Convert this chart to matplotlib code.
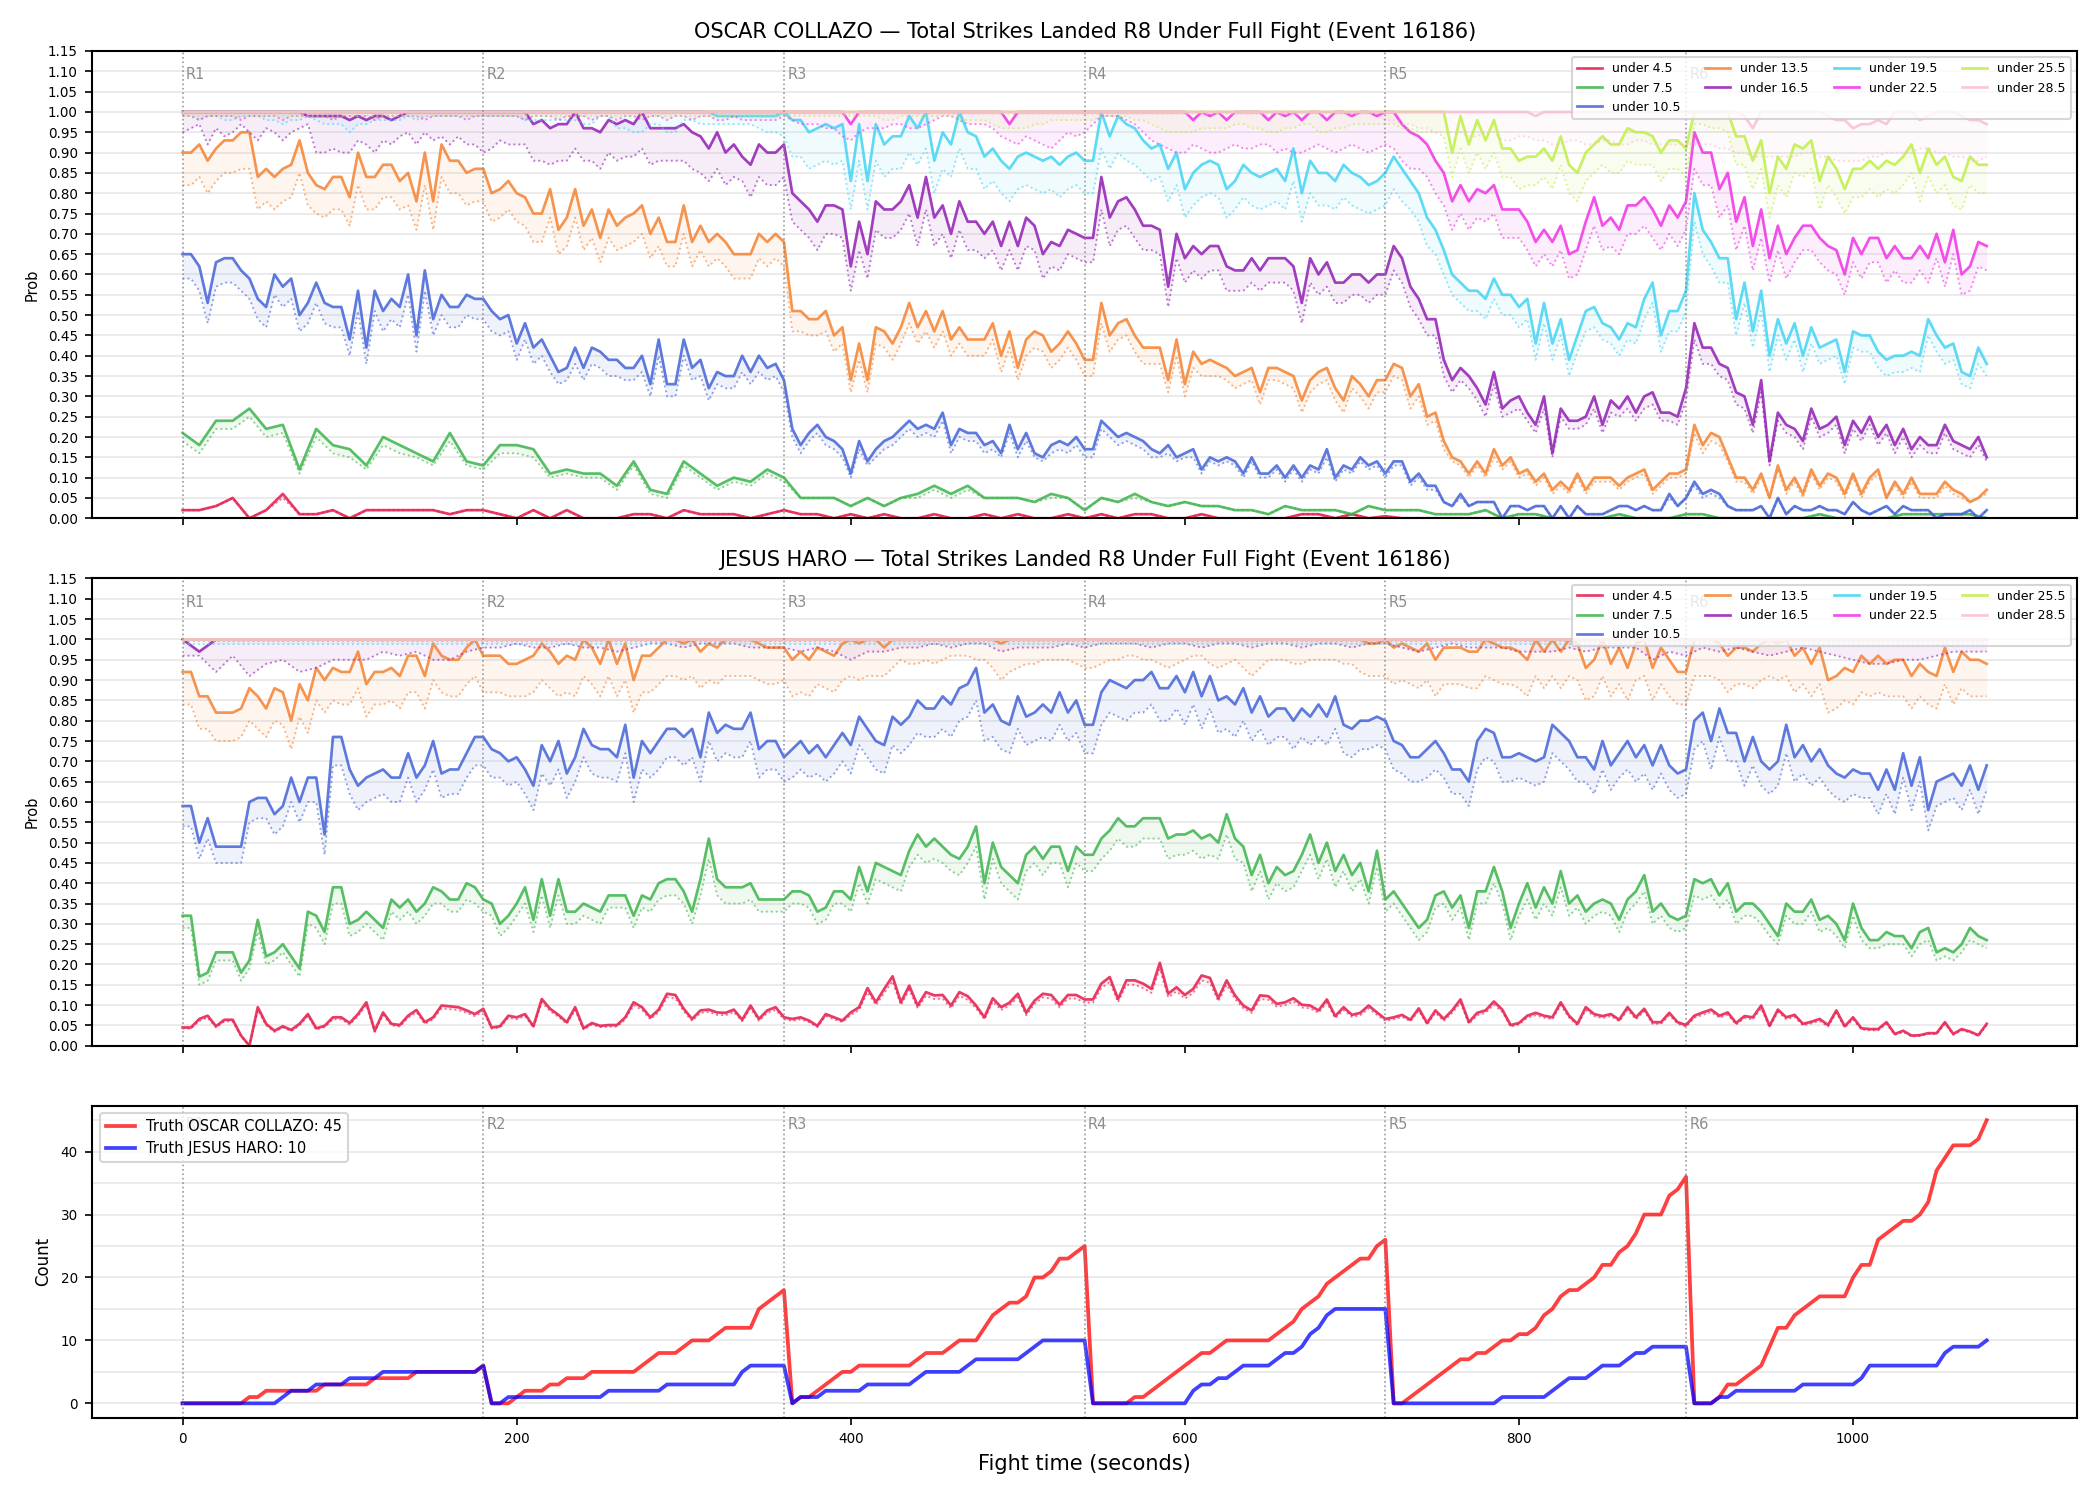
import numpy as np
import matplotlib.pyplot as plt
from matplotlib.ticker import MultipleLocator, FormatStrFormatter

plt.rcParams['axes.linewidth'] = 1.0

# market snapshot times (seconds): most lines every 5 s, a few read every 10 s
t5 = np.arange(0, 1081, 5)
t10 = np.arange(0, 1081, 10)
round_starts = [0, 180, 360, 540, 720, 900]

labels = ['under 4.5', 'under 7.5', 'under 10.5', 'under 13.5', 'under 16.5',
          'under 19.5', 'under 22.5', 'under 25.5', 'under 28.5']
colors = ['#e6194b', '#3cb44b', '#4363d8', '#f58231', '#911eb4',
          '#42d4f4', '#f032e6', '#bfef45', '#fabed4']

# ================= OSCAR COLLAZO (percent); c_ = solid line, cd_ = dotted line
# 10 s series
c_u45 = [2, 2, 3, 5, 0, 2, 6, 1, 1, 2, 0, 2, 2, 2, 2, 2, 1, 2,
         2, 1, 0, 2, 0, 2, 0, 0, 0, 1, 1, 0, 2, 1, 1, 1, 0, 1,
         2, 1, 1, 0, 1, 0, 1, 0, 0, 1, 0, 0, 1, 0, 1, 0, 0, 1,
         0, 1, 0, 1, 1, 0, 0, 1, 0, 0, 0, 0, 0, 1, 1, 0, 1, 0,
         0.5, 0, 0, 0, 0, 0, 0, 0, 0, 0, 0, 0, 0, 0, 0, 0, 0, 0,
         0, 0, 0, 0, 0, 0, 0, 0, 0, 0, 0, 0, 0, 0, 0, 0, 0, 0, 0]
cd_u45 = [2, 2, 3, 5, 0, 2, 5, 1, 1, 2, 0, 2, 2, 2, 2, 2, 1, 2,
          2, 1, 0, 2, 0, 2, 0, 0, 0, 1, 1, 0, 2, 1, 1, 1, 0, 1,
          2, 1, 1, 0, 1, 0, 1, 0, 0, 1, 0, 0, 1, 0, 1, 0, 0, 1,
          0, 1, 0, 1, 1, 0, 0, 1, 0, 0, 0, 0, 0, 1, 1, 0, 1, 0,
          0.5, 0, 0, 0, 0, 0, 0, 0, 0, 0, 0, 0, 0, 0, 0, 0, 0, 0,
          0, 0, 0, 0, 0, 0, 0, 0, 0, 0, 0, 0, 0, 0, 0, 0, 0, 0, 0]
c_u75 = [21, 18, 24, 24, 27, 22, 23, 12, 22, 18, 17, 13, 20, 18, 16, 14, 21, 14,
         13, 18, 18, 17, 11, 12, 11, 11, 8, 14, 7, 6, 14, 11, 8, 10, 9, 12,
         10, 5, 5, 5, 3, 5, 3, 5, 6, 8, 6, 8, 5, 5, 5, 4, 6, 5,
         2, 5, 4, 6, 4, 3, 4, 3, 3, 2, 2, 1, 3, 2, 2, 2, 1, 3,
         2, 2, 2, 1, 1, 1, 2, 0, 1, 1, 0, 0, 0, 0, 1, 0, 0, 0,
         1, 1, 0, 0, 0, 0, 0, 0, 1, 0, 0, 0, 0, 1, 1, 1, 1, 1, 0]
cd_u75 = [19, 16, 22, 22, 25, 20, 21, 11, 20, 16, 15, 12, 18, 16, 15, 13, 19, 13,
          12, 16, 16, 15, 10, 11, 10, 10, 7, 13, 6, 5, 13, 10, 7, 9, 8, 11,
          9, 5, 5, 5, 3, 5, 3, 5, 5, 7, 5, 7, 5, 5, 5, 4, 5, 5,
          2, 5, 4, 5, 4, 3, 4, 3, 3, 2, 2, 1, 3, 2, 2, 2, 1, 3,
          2, 2, 2, 1, 1, 1, 2, 0, 1, 1, 0, 0, 0, 0, 1, 0, 0, 0,
          1, 1, 0, 0, 0, 0, 0, 0, 1, 0, 0, 0, 0, 1, 1, 1, 1, 1, 0]
# 5 s series
c_u105 = [65, 65, 62, 53, 63, 64, 64, 61, 59, 54, 52, 60, 57, 59, 50, 53, 58, 53, 52, 52, 44, 56, 42, 56, 51, 54, 52, 60, 45, 61, 49, 55, 52, 52, 55, 54,
          54, 51, 49, 50, 43, 48, 42, 44, 40, 36, 37, 42, 37, 42, 41, 39, 39, 37, 37, 40, 33, 44, 33, 33, 44, 37, 39, 32, 36, 35, 35, 40, 36, 40, 37, 38,
          34, 22, 18, 21, 23, 20, 19, 17, 11, 19, 14, 17, 19, 20, 22, 24, 22, 23, 22, 26, 18, 22, 21, 21, 18, 19, 16, 23, 17, 21, 16, 15, 18, 19, 18, 20,
          17, 17, 24, 22, 20, 21, 20, 19, 17, 16, 18, 15, 16, 17, 12, 15, 14, 15, 14, 11, 15, 11, 11, 13, 10, 13, 10, 13, 12, 17, 10, 13, 12, 15, 13, 14,
          11, 14, 14, 9, 11, 8, 8, 4, 3, 6, 3, 4, 4, 4, 0, 3, 3, 2, 3, 3, 0, 3, 0, 3, 1, 1, 1, 2, 3, 3, 2, 3, 2, 2, 6, 3,
          5, 9, 6, 7, 6, 3, 2, 2, 2, 3, 0, 5, 1, 3, 2, 2, 3, 2, 2, 1, 4, 2, 1, 2, 3, 1, 3, 2, 2, 2, 0, 1, 1, 1, 2, 0, 2]
cd_u105 = [59, 59, 56, 48, 57, 58, 58, 56, 54, 49, 47, 55, 52, 54, 46, 48, 53, 48, 47, 47, 40, 51, 38, 51, 46, 49, 47, 55, 41, 56, 45, 50, 47, 47, 50, 49,
           49, 46, 45, 46, 39, 44, 38, 40, 36, 33, 34, 38, 34, 38, 37, 35, 35, 34, 34, 36, 30, 40, 30, 30, 40, 34, 35, 29, 33, 32, 32, 36, 33, 36, 34, 35,
           31, 20, 16, 19, 21, 18, 17, 15, 10, 17, 13, 15, 17, 18, 20, 22, 20, 21, 20, 24, 16, 20, 19, 19, 16, 17, 15, 21, 15, 19, 15, 14, 16, 17, 16, 18,
           15, 15, 22, 20, 18, 19, 18, 17, 15, 15, 16, 14, 15, 15, 11, 14, 13, 14, 13, 10, 14, 10, 10, 12, 9, 12, 9, 12, 11, 15, 9, 12, 11, 14, 12, 13,
           10, 13, 13, 8, 10, 7, 7, 4, 3, 5, 3, 4, 4, 4, 0, 3, 3, 2, 3, 3, 0, 3, 0, 3, 1, 1, 1, 2, 3, 3, 2, 3, 2, 2, 5, 3,
           5, 8, 5, 6, 5, 3, 2, 2, 2, 3, 0, 5, 1, 3, 2, 2, 3, 2, 2, 1, 4, 2, 1, 2, 3, 1, 3, 2, 2, 2, 0, 1, 1, 1, 2, 0, 2]
c_u135 = [90, 90, 92, 88, 91, 93, 93, 95, 95, 84, 86, 84, 86, 87, 93, 85, 82, 81, 84, 84, 79, 90, 84, 84, 87, 87, 83, 85, 78, 90, 78, 92, 88, 88, 85, 86,
          86, 80, 81, 83, 80, 79, 75, 75, 81, 71, 74, 81, 72, 76, 69, 76, 72, 74, 75, 77, 70, 74, 68, 68, 77, 68, 72, 68, 70, 68, 65, 65, 65, 70, 68, 70,
          68, 51, 51, 49, 49, 51, 45, 47, 34, 43, 34, 47, 46, 43, 47, 53, 47, 51, 46, 51, 44, 47, 44, 44, 44, 48, 40, 46, 37, 44, 46, 45, 41, 43, 46, 43,
          39, 39, 53, 45, 48, 49, 45, 42, 42, 42, 34, 44, 33, 41, 38, 39, 38, 37, 35, 36, 37, 31, 37, 37, 36, 35, 29, 34, 36, 37, 32, 29, 35, 33, 30, 34,
          34, 38, 37, 30, 33, 25, 26, 19, 15, 14, 11, 14, 11, 17, 13, 15, 11, 12, 9, 11, 7, 9, 7, 11, 7, 10, 10, 10, 8, 10, 11, 12, 7, 9, 11, 11,
          12, 23, 18, 21, 20, 15, 10, 10, 7, 11, 5, 13, 7, 10, 6, 12, 8, 11, 10, 6, 11, 6, 10, 12, 5, 9, 6, 10, 6, 6, 6, 9, 7, 6, 4, 5, 7]
cd_u135 = [82, 82, 84, 80, 83, 85, 85, 86, 86, 76, 78, 76, 78, 79, 85, 77, 75, 74, 76, 76, 72, 82, 76, 76, 79, 79, 76, 77, 71, 82, 71, 84, 80, 80, 77, 78,
           78, 73, 74, 76, 73, 72, 68, 68, 74, 65, 67, 74, 66, 69, 63, 69, 66, 67, 68, 70, 64, 67, 62, 62, 70, 62, 66, 62, 64, 62, 59, 59, 59, 64, 62, 64,
           62, 46, 46, 45, 45, 46, 41, 43, 31, 39, 31, 43, 42, 39, 43, 48, 43, 46, 42, 46, 40, 43, 40, 40, 40, 44, 36, 42, 34, 40, 42, 41, 37, 39, 42, 39,
           35, 35, 48, 41, 44, 45, 41, 38, 38, 38, 31, 40, 30, 37, 35, 35, 35, 34, 32, 33, 34, 28, 34, 34, 33, 32, 26, 31, 33, 34, 29, 26, 32, 30, 27, 31,
           31, 35, 34, 27, 30, 23, 24, 17, 14, 13, 10, 13, 10, 15, 12, 14, 10, 11, 8, 10, 6, 8, 6, 10, 6, 9, 9, 9, 7, 9, 10, 11, 6, 8, 10, 10,
           11, 21, 16, 19, 18, 14, 9, 9, 6, 10, 5, 12, 6, 9, 5, 11, 7, 10, 9, 5, 10, 5, 9, 11, 5, 8, 5, 9, 5, 5, 5, 8, 6, 5, 4, 5, 6]
c_u165 = [100] * 15 + [99, 99, 99, 99, 99, 98, 99, 98, 99, 99, 98, 99, 100, 100, 100, 100, 100, 100, 100, 100, 100,
          100, 100, 100, 100, 100, 100, 97, 98, 96, 97, 97, 100, 96, 96, 95, 98, 97, 98, 97, 100, 96, 96, 96, 96, 97, 95, 94, 91, 95, 90, 92, 89, 87, 92, 90, 90,
          92, 80, 78, 76, 73, 77, 77, 76, 62, 73, 65, 78, 76, 76, 78, 82, 74, 84, 74, 77, 70, 78, 73, 73, 70, 73, 67, 73, 67, 74, 72, 65, 68, 67, 71, 70,
          69, 69, 84, 74, 78, 79, 76, 72, 72, 71, 57, 70, 64, 67, 65, 67, 67, 62, 61, 61, 64, 61, 64, 64, 64, 62, 53, 64, 60, 63, 58, 58, 60, 60, 58, 60,
          60, 67, 64, 57, 54, 49, 49, 39, 34, 37, 35, 32, 28, 36, 27, 29, 30, 26, 23, 30, 16, 27, 24, 24, 25, 30, 23, 29, 27, 30, 26, 30, 31, 26, 26, 25,
          32, 48, 42, 42, 38, 37, 31, 30, 23, 34, 14, 26, 23, 22, 19, 27, 22, 23, 25, 18, 24, 21, 25, 20, 23, 18, 22, 17, 20, 18, 18, 23, 19, 18, 17, 20, 15]
cd_u165 = [95, 96, 97, 92, 96, 94, 95, 97, 95, 93, 96, 95, 93, 95, 96, 97, 90, 90, 91, 90, 90, 93, 92, 90, 93, 92, 94, 95, 92, 95, 93, 94, 92, 94, 92, 92,
           90, 91, 93, 92, 92, 92, 88, 88, 87, 88, 88, 91, 88, 88, 86, 90, 88, 89, 89, 91, 87, 88, 88, 88, 88, 86, 85, 83, 86, 82, 84, 83, 79, 84, 82, 82,
           84, 73, 71, 69, 66, 70, 70, 69, 56, 66, 59, 71, 69, 69, 71, 75, 67, 76, 67, 70, 64, 71, 66, 66, 64, 66, 61, 66, 61, 67, 66, 59, 62, 61, 65, 64,
           63, 63, 76, 67, 71, 72, 69, 66, 66, 65, 52, 64, 58, 61, 59, 61, 61, 56, 56, 56, 58, 56, 58, 58, 58, 56, 48, 58, 55, 57, 53, 53, 55, 55, 53, 55,
           55, 61, 58, 52, 49, 45, 45, 35, 31, 34, 32, 29, 25, 33, 25, 26, 27, 24, 21, 27, 15, 25, 22, 22, 23, 27, 21, 26, 25, 27, 24, 27, 28, 24, 24, 23,
           29, 44, 38, 38, 35, 34, 28, 27, 21, 31, 13, 24, 21, 20, 17, 25, 20, 21, 23, 16, 22, 19, 23, 18, 21, 16, 20, 15, 18, 16, 16, 21, 17, 16, 15, 18, 14]
c_u195 = [100] * 64 + [99] * 8 + [
          100, 98, 98, 95, 96, 97, 96, 97, 83, 97, 83, 97, 92, 94, 94, 99, 96, 100, 88, 95, 92, 100, 95, 94, 89, 91, 88, 86, 89, 90, 89, 88, 89, 87, 89, 90,
          88, 88, 100, 94, 99, 97, 96, 93, 91, 92, 86, 90, 81, 85, 87, 88, 87, 81, 83, 87, 85, 84, 85, 86, 83, 91, 80, 88, 85, 85, 83, 87, 85, 84, 82, 83,
          85, 89, 86, 83, 80, 74, 71, 66, 60, 58, 56, 56, 54, 59, 55, 55, 52, 54, 43, 53, 43, 49, 39, 45, 51, 52, 48, 47, 44, 48, 47, 54, 58, 45, 51, 51,
          56, 80, 71, 68, 64, 64, 49, 58, 46, 56, 40, 49, 43, 48, 40, 47, 42, 43, 44, 36, 46, 45, 45, 41, 39, 40, 40, 41, 40, 49, 45, 42, 43, 36, 35, 42, 38]
cd_u195 = [99, 99, 98, 99, 99, 98, 98, 99, 99, 99, 98, 98, 97, 98, 98, 99, 98, 97, 97, 97, 95, 97, 97, 98, 98, 98, 98, 99, 98, 99, 99, 99, 99, 99, 99, 99,
           99, 99, 99, 99, 99, 98, 98, 98, 98, 98, 98, 98, 97, 97, 99, 99, 96, 96, 95, 95, 97, 97, 95, 95, 98, 98, 97, 97, 97, 97, 97, 97, 97, 96, 95, 95,
           94, 89, 89, 86, 87, 88, 87, 88, 76, 88, 76, 88, 84, 86, 86, 90, 87, 91, 80, 86, 84, 91, 86, 86, 81, 83, 80, 78, 81, 82, 81, 80, 81, 79, 81, 82,
           80, 80, 91, 86, 90, 88, 87, 85, 83, 84, 78, 82, 74, 77, 79, 80, 79, 74, 76, 79, 77, 76, 77, 78, 76, 83, 73, 80, 77, 77, 76, 79, 77, 76, 75, 76,
           77, 81, 78, 76, 73, 67, 65, 60, 55, 53, 51, 51, 49, 54, 50, 50, 47, 49, 39, 48, 39, 45, 35, 41, 46, 47, 44, 43, 40, 44, 43, 49, 53, 41, 46, 46,
           51, 73, 65, 62, 58, 58, 45, 53, 42, 51, 36, 45, 39, 44, 36, 43, 38, 39, 40, 33, 42, 41, 41, 37, 35, 36, 36, 37, 36, 45, 41, 38, 39, 33, 32, 38, 35]
c_u225 = [100] * 72 + [
          100, 100, 100, 100, 100, 100, 100, 100, 97, 100, 100, 100, 100, 100, 100, 100, 100, 100, 100, 100, 100, 100, 100, 100, 100, 100, 100, 97, 100, 100, 100, 100, 100, 100, 100, 100,
          100, 100, 100, 100, 100, 100, 100, 100, 100, 100, 100, 100, 100, 98, 100, 99, 100, 98, 100, 100, 100, 100, 98, 100, 99, 100, 98, 100, 100, 98, 100, 100, 99, 100, 100, 99,
          100, 100, 97, 95, 94, 92, 88, 85, 78, 82, 78, 81, 80, 82, 76, 76, 76, 73, 68, 71, 68, 72, 65, 66, 73, 79, 72, 74, 71, 77, 77, 79, 76, 72, 77, 74,
          78, 95, 90, 90, 81, 85, 73, 79, 67, 76, 64, 72, 65, 69, 72, 72, 69, 67, 66, 60, 69, 65, 69, 69, 64, 67, 64, 64, 67, 64, 70, 63, 71, 60, 62, 68, 67]
cd_u225 = [99, 99, 98, 99, 99, 99, 99, 98, 99, 99, 99, 99, 98, 99, 99, 99, 99, 99, 98, 99, 99, 99, 99, 98, 99, 99, 99, 99, 99, 98, 99, 99, 99, 99, 98, 99,
           99, 99, 99, 99, 99, 98, 99, 99, 99, 98, 99, 99, 99, 98, 99, 99, 98, 99, 99, 98, 99, 99, 98, 99, 99, 98, 99, 99, 98, 98, 99, 98, 98, 98, 98, 98,
           99, 98, 97, 97, 97, 96, 96, 94, 93, 95, 96, 96, 96, 97, 97, 96, 96, 97, 98, 99, 99, 98, 97, 97, 97, 96, 94, 93, 92, 94, 93, 92, 91, 93, 95, 94,
           95, 97, 99, 99, 99, 98, 97, 95, 93, 92, 91, 90, 90, 92, 91, 90, 90, 91, 92, 91, 91, 92, 92, 90, 91, 90, 90, 91, 92, 91, 90, 91, 92, 91, 90, 91,
           92, 91, 88, 86, 86, 84, 80, 77, 71, 75, 71, 74, 73, 75, 69, 69, 69, 66, 62, 65, 62, 66, 59, 60, 66, 72, 66, 67, 65, 70, 70, 72, 69, 66, 70, 67,
           71, 86, 82, 82, 74, 77, 66, 72, 61, 69, 58, 66, 59, 63, 66, 66, 63, 61, 60, 55, 63, 59, 63, 63, 58, 61, 58, 58, 61, 58, 64, 57, 65, 55, 56, 62, 61]
c_u255 = [100] * 144 + [
          100, 100, 100, 100, 100, 100, 100, 100, 90, 99, 92, 98, 93, 98, 91, 91, 88, 89, 89, 91, 88, 94, 87, 85, 90, 92, 94, 92, 92, 96, 95, 95, 94, 90, 93, 93,
          91, 100, 100, 100, 100, 100, 94, 94, 88, 93, 80, 89, 86, 92, 91, 93, 83, 89, 86, 81, 86, 86, 88, 86, 88, 87, 89, 92, 85, 91, 87, 89, 84, 83, 89, 87, 87]
cd_u255 = [99] * 72 + [
           99, 99, 99, 99, 99, 99, 99, 99, 99, 99, 99, 99, 98, 98, 99, 99, 99, 99, 99, 99, 99, 98, 98, 98, 98, 97, 96, 96, 96, 96, 97, 97, 98, 98, 98, 98,
           98, 98, 99, 99, 99, 99, 98, 98, 97, 96, 95, 95, 95, 95, 96, 96, 96, 96, 97, 97, 96, 96, 95, 95, 96, 96, 97, 97, 95, 95, 96, 96, 97, 97, 97, 97,
           97, 97, 96, 96, 95, 95, 95, 94, 84, 91, 85, 90, 86, 90, 84, 84, 81, 82, 82, 84, 81, 87, 80, 78, 83, 85, 87, 85, 85, 88, 87, 87, 87, 83, 86, 86,
           84, 97, 97, 96, 96, 95, 87, 87, 81, 86, 74, 82, 79, 85, 84, 86, 76, 82, 79, 75, 79, 79, 81, 79, 81, 80, 82, 85, 78, 84, 80, 82, 77, 76, 82, 80, 80]
c_u285 = [100] * 162 + [99] + [100] * 17 + [
          100, 100, 100, 100, 100, 100, 100, 99, 96, 100, 100, 100, 100, 100, 100, 100, 100, 99, 98, 98, 96, 97, 97, 98, 97, 100, 100, 100, 98, 99, 100, 100, 100, 99, 98, 98, 97]
cd_u285 = [99.5] * 144 + [
           98, 98, 97, 97, 96, 96, 95, 95, 95, 95, 94, 94, 95, 95, 93, 93, 94, 94, 93, 93, 92, 92, 93, 93, 92, 92, 93, 93, 92, 92, 93, 93, 92, 92, 92, 92,
           92, 92, 92, 92, 91, 91, 90, 90, 89, 89, 89, 89, 89, 89, 90, 90, 89, 89, 88, 88, 88, 88, 89, 89, 90, 90, 90, 90, 91, 91, 90, 90, 89, 89, 88, 88, 89]

# ================= JESUS HARO (percent)
h_u45 = [4.5, 4.5, 6.6, 7.4, 4.8, 6.4, 6.4, 2.5, 0, 9.5, 5.4, 3.7, 4.8, 3.9, 5.4, 7.8, 4.3, 4.9, 7, 7, 5.6, 7.8, 10.7, 3.7, 8.2, 5.4, 5.1, 7.4, 8.8, 5.8, 7, 9.9, 9.7, 9.5, 8.7, 7.8,
         9.1, 4.5, 4.8, 7.4, 7, 7.8, 4.8, 11.5, 9.1, 7.6, 5.8, 9.5, 4.3, 5.6, 4.9, 5.1, 5.1, 7, 10.7, 9.5, 7, 8.9, 12.8, 12.5, 9.1, 6.6, 8.7, 8.9, 8.2, 8.1, 8.9, 6.4, 9.9, 6.6, 8.7, 9.5,
         7, 6.6, 7, 6.2, 4.9, 7.8, 7, 6.2, 8.2, 9.5, 14.2, 10.7, 14, 17.1, 10.7, 14.8, 9.9, 13.2, 12.4, 12.5, 9.9, 13.2, 12.2, 9.9, 7, 11.7, 9.5, 10.6, 12.8, 8.1, 11.1, 12.8, 12.5, 10.1, 12.5, 12.5,
         11.4, 11.4, 15.3, 16.9, 11.5, 16.1, 16.1, 15.3, 14, 20.4, 12.8, 14.4, 12.5, 14, 17.3, 16.7, 11.7, 16.1, 12.4, 9.9, 8.7, 12.4, 12.2, 10.3, 10.7, 11.7, 10.1, 9.9, 8.7, 11.4, 7.3, 9.5, 7.6, 8.1, 9.9, 8.2,
         6.6, 7, 7.6, 6.4, 9.2, 5.6, 8.7, 6.6, 8.7, 11.4, 5.8, 8.1, 8.7, 10.9, 8.9, 5.1, 5.6, 7.4, 8.1, 7.4, 7, 10.7, 7.4, 5.4, 9.5, 7.8, 7.3, 7.8, 6.4, 9.5, 7, 9.1, 5.8, 5.8, 8.1, 5.8,
         5.1, 7.4, 8.2, 8.9, 7.4, 8.2, 5.6, 7.3, 7, 9.9, 4.9, 8.9, 7, 7.6, 5.4, 5.9, 6.6, 5.1, 8.7, 4.8, 7, 4.3, 4.1, 4.1, 5.8, 2.9, 3.7, 2.5, 2.6, 3.1, 3.1, 5.8, 2.9, 4.1, 3.5, 2.6, 5.4]
hd_u45 = [4.2, 4.2, 6.1, 6.9, 4.5, 6, 6, 2.3, 0, 8.8, 5, 3.4, 4.5, 3.6, 5, 7.3, 4, 4.6, 6.5, 6.5, 5.2, 7.3, 10, 3.4, 7.6, 5, 4.7, 6.9, 8.2, 5.4, 6.5, 9.2, 9, 8.8, 8.1, 7.3,
          8.5, 4.2, 4.5, 6.9, 6.5, 7.3, 4.5, 10.7, 8.5, 7.1, 5.4, 8.8, 4, 5.2, 4.6, 4.7, 4.7, 6.5, 10, 8.8, 6.5, 8.3, 11.9, 11.6, 8.5, 6.1, 8.1, 8.3, 7.6, 7.5, 8.3, 6, 9.2, 6.1, 8.1, 8.8,
          6.5, 6.1, 6.5, 5.8, 4.6, 7.3, 6.5, 5.8, 7.6, 8.8, 13.2, 10, 13, 15.9, 10, 13.8, 9.2, 12.3, 11.5, 11.6, 9.2, 12.3, 11.3, 9.2, 6.5, 10.9, 8.8, 9.9, 11.9, 7.5, 10.3, 11.9, 11.6, 9.4, 11.6, 11.6,
          10.6, 10.6, 14.2, 15.7, 10.7, 15, 15, 14.2, 13, 19, 11.9, 13.4, 11.6, 13, 16.1, 15.5, 10.9, 15, 11.5, 9.2, 8.1, 11.5, 11.3, 9.6, 10, 10.9, 9.4, 9.2, 8.1, 10.6, 6.8, 8.8, 7.1, 7.5, 9.2, 7.6,
          6.1, 6.5, 7.1, 6, 8.6, 5.2, 8.1, 6.1, 8.1, 10.6, 5.4, 7.5, 8.1, 10.1, 8.3, 4.7, 5.2, 6.9, 7.5, 6.9, 6.5, 10, 6.9, 5, 8.8, 7.3, 6.8, 7.3, 6, 8.8, 6.5, 8.5, 5.4, 5.4, 7.5, 5.4,
          4.7, 6.9, 7.6, 8.3, 6.9, 7.6, 5.2, 6.8, 6.5, 9.2, 4.6, 8.3, 6.5, 7.1, 5, 5.5, 6.1, 4.7, 8.1, 4.5, 6.5, 4, 3.8, 3.8, 5.4, 2.7, 3.4, 2.3, 2.4, 2.9, 2.9, 5.4, 2.7, 3.8, 3.3, 2.4, 5]
h_u75 = [32, 32, 17, 18, 23, 23, 23, 18, 21, 31, 22, 23, 25, 22, 19, 33, 32, 28, 39, 39, 30, 31, 33, 31, 29, 36, 34, 36, 33, 35, 39, 38, 36, 36, 40, 39,
         36, 35, 30, 32, 35, 39, 31, 41, 32, 41, 33, 33, 35, 34, 33, 37, 37, 37, 32, 37, 36, 40, 41, 41, 38, 33, 41, 51, 41, 39, 39, 39, 40, 36, 36, 36,
         36, 38, 38, 37, 33, 34, 38, 38, 36, 44, 38, 45, 44, 43, 42, 48, 52, 49, 51, 49, 47, 46, 49, 54, 40, 50, 44, 42, 40, 47, 49, 46, 49, 49, 43, 49,
         47, 47, 51, 53, 56, 54, 54, 56, 56, 56, 51, 52, 52, 53, 51, 52, 50, 57, 51, 49, 42, 47, 40, 44, 42, 43, 47, 52, 45, 50, 43, 47, 42, 45, 38, 48,
         36, 38, 35, 32, 29, 31, 37, 38, 34, 37, 29, 38, 38, 44, 38, 29, 35, 40, 34, 39, 35, 43, 35, 37, 33, 35, 36, 35, 31, 36, 38, 42, 33, 35, 32, 31,
         32, 41, 40, 41, 37, 40, 33, 35, 35, 33, 30, 27, 35, 33, 33, 36, 31, 32, 30, 26, 35, 29, 26, 26, 28, 27, 27, 24, 28, 29, 23, 24, 23, 25, 29, 27, 26]
hd_u75 = [29, 29, 15, 16, 21, 21, 21, 16, 19, 28, 20, 21, 23, 20, 17, 30, 29, 25, 35, 35, 27, 28, 30, 28, 26, 33, 31, 33, 30, 32, 35, 35, 33, 33, 36, 35,
          33, 32, 27, 29, 32, 35, 28, 37, 29, 37, 30, 30, 32, 31, 30, 34, 34, 34, 29, 34, 33, 36, 37, 37, 35, 30, 37, 46, 37, 35, 35, 35, 36, 33, 33, 33,
          33, 35, 35, 34, 30, 31, 35, 35, 33, 40, 35, 41, 40, 39, 38, 44, 47, 45, 46, 45, 43, 42, 45, 49, 36, 46, 40, 38, 36, 43, 45, 42, 45, 45, 39, 45,
          43, 43, 46, 48, 51, 49, 49, 51, 51, 51, 46, 47, 47, 48, 46, 47, 46, 52, 46, 45, 38, 43, 36, 40, 38, 39, 43, 47, 41, 46, 39, 43, 38, 41, 35, 44,
          33, 35, 32, 29, 26, 28, 34, 35, 31, 34, 26, 35, 35, 40, 35, 26, 32, 36, 31, 35, 32, 39, 32, 34, 30, 32, 33, 32, 28, 33, 35, 38, 30, 32, 29, 28,
          29, 37, 36, 37, 34, 36, 30, 32, 32, 30, 27, 25, 32, 30, 30, 33, 28, 29, 27, 24, 32, 26, 24, 24, 25, 25, 25, 22, 25, 26, 21, 22, 21, 23, 26, 25, 24]
h_u105 = [59, 59, 50, 56, 49, 49, 49, 49, 60, 61, 61, 57, 59, 66, 60, 66, 66, 52, 76, 76, 68, 64, 66, 67, 68, 66, 66, 72, 66, 69, 75, 67, 68, 68, 72, 76,
          76, 73, 72, 70, 71, 68, 64, 74, 70, 75, 67, 71, 78, 74, 73, 73, 71, 79, 66, 75, 72, 75, 78, 78, 76, 78, 71, 82, 77, 79, 78, 78, 82, 73, 75, 75,
          71, 73, 75, 72, 74, 71, 74, 77, 74, 81, 78, 75, 74, 81, 79, 81, 85, 83, 83, 86, 84, 88, 89, 93, 82, 84, 80, 79, 86, 81, 82, 84, 82, 87, 82, 85,
          79, 79, 87, 90, 89, 88, 90, 90, 92, 88, 88, 91, 87, 92, 86, 91, 85, 86, 84, 88, 82, 86, 81, 83, 83, 80, 83, 81, 84, 81, 86, 79, 78, 80, 80, 81,
          80, 75, 74, 71, 71, 73, 75, 72, 68, 68, 65, 75, 78, 77, 71, 71, 72, 71, 70, 71, 79, 77, 75, 71, 71, 68, 75, 69, 72, 75, 71, 74, 69, 74, 69, 67,
          68, 80, 82, 75, 83, 77, 77, 70, 76, 70, 68, 70, 79, 71, 74, 70, 73, 69, 67, 66, 68, 67, 67, 63, 68, 63, 72, 64, 71, 58, 65, 66, 67, 64, 69, 63, 69]
hd_u105 = [54, 54, 46, 51, 45, 45, 45, 45, 55, 56, 56, 52, 54, 60, 55, 60, 60, 47, 69, 69, 62, 58, 60, 61, 62, 60, 60, 66, 60, 63, 68, 61, 62, 62, 66, 69,
           69, 66, 66, 64, 65, 62, 58, 67, 64, 68, 61, 65, 71, 67, 66, 66, 65, 72, 60, 68, 66, 68, 71, 71, 69, 71, 65, 75, 70, 72, 71, 71, 75, 66, 68, 68,
           65, 66, 68, 66, 67, 65, 67, 70, 67, 74, 71, 68, 67, 74, 72, 74, 77, 76, 76, 78, 76, 80, 81, 85, 75, 76, 73, 72, 78, 74, 75, 76, 75, 79, 75, 77,
           72, 72, 79, 82, 81, 80, 82, 82, 84, 80, 80, 83, 79, 84, 78, 83, 77, 78, 76, 80, 75, 78, 74, 76, 76, 73, 76, 74, 76, 74, 78, 72, 71, 73, 73, 74,
           73, 68, 67, 65, 65, 66, 68, 66, 62, 62, 59, 68, 71, 70, 65, 65, 66, 65, 64, 65, 72, 70, 68, 65, 65, 62, 68, 63, 66, 68, 65, 67, 63, 67, 63, 61,
           62, 73, 75, 68, 76, 70, 70, 64, 69, 64, 62, 64, 72, 65, 67, 64, 66, 63, 61, 60, 62, 61, 61, 57, 62, 57, 66, 58, 65, 53, 59, 60, 61, 58, 63, 57, 63]
h_u135 = [92, 92, 86, 86, 82, 82, 82, 83, 88, 86, 83, 88, 87, 80, 89, 85, 93, 90, 93, 92, 92, 97, 89, 92, 92, 93, 91, 96, 96, 91, 99, 96, 95, 95, 98, 100,
          96, 96, 96, 94, 94, 95, 96, 99, 97, 94, 96, 95, 100, 98, 94, 100, 94, 99, 90, 96, 96, 98, 100, 100, 99, 100, 97, 99, 98, 100, 100, 100, 100, 99, 98, 98,
          98, 95, 97, 95, 98, 97, 96, 99, 100, 99, 100, 100, 98, 100, 100, 100, 100, 100, 100, 100, 100, 100, 100, 100, 100, 100, 99, 100, 100, 100, 100, 100, 100, 100, 100, 100,
          100, 100, 100, 100, 100, 100, 100, 100, 100, 100, 100, 100, 100, 100, 100, 100, 100, 100, 100, 100, 100, 100, 100, 100, 100, 100, 100, 100, 100, 100, 100, 100, 100, 100, 99, 99,
          100, 98, 99, 98, 97, 99, 95, 98, 98, 98, 97, 97, 100, 99, 98, 98, 97, 95, 100, 97, 100, 97, 100, 99, 93, 95, 100, 94, 98, 93, 99, 100, 93, 98, 95, 92,
          92, 100, 100, 100, 99, 96, 98, 98, 97, 99, 100, 99, 100, 96, 98, 94, 98, 90, 91, 93, 92, 96, 94, 96, 94, 95, 95, 91, 94, 92, 91, 98, 92, 97, 95, 95, 94]
hd_u135 = [84, 84, 78, 78, 75, 75, 75, 76, 80, 78, 76, 80, 79, 73, 81, 77, 85, 82, 85, 84, 84, 88, 81, 84, 84, 85, 83, 87, 87, 83, 90, 87, 86, 86, 89, 91,
           87, 87, 87, 86, 86, 86, 87, 90, 88, 86, 87, 86, 91, 89, 86, 91, 86, 90, 82, 87, 87, 89, 91, 91, 90, 91, 88, 90, 89, 91, 91, 91, 91, 90, 89, 89,
           90, 86, 87, 86, 89, 88, 87, 90, 91, 90, 91, 91, 91, 93, 95, 94, 94, 95, 94, 95, 96, 96, 96, 95, 95, 93, 90, 92, 93, 94, 94, 95, 95, 95, 95, 94,
           93, 93, 94, 95, 95, 96, 96, 95, 95, 94, 93, 94, 95, 96, 96, 94, 93, 94, 95, 93, 91, 93, 95, 95, 95, 94, 94, 95, 95, 95, 95, 94, 94, 92, 91, 91,
           91, 89, 90, 89, 88, 90, 86, 89, 89, 89, 88, 88, 91, 90, 89, 89, 88, 86, 91, 88, 91, 88, 91, 90, 85, 86, 91, 86, 89, 85, 90, 91, 85, 89, 86, 84,
           84, 91, 91, 91, 90, 87, 89, 89, 88, 90, 91, 90, 91, 87, 89, 86, 89, 82, 83, 85, 84, 87, 86, 87, 86, 86, 86, 83, 86, 84, 83, 89, 84, 88, 86, 86, 86]
# 10 s series
h_u165 = [100, 97] + [100] * 107
hd_u165 = [96, 96, 92, 96, 91, 94, 95, 92, 93, 95, 95, 95, 97, 96, 97, 95, 95, 97,
           98, 98, 99, 98, 98, 99, 98, 98, 97, 98, 99, 99, 98, 99, 99, 99, 98, 98,
           98, 97, 98, 97, 95, 97, 97, 98, 98, 99, 98, 99, 99, 97, 98, 98, 98, 99,
           98, 99, 99, 99, 98, 99, 99, 98, 99, 99, 98, 99, 99, 98, 99, 99, 98, 99,
           99, 98, 97, 98, 99, 98, 98, 98, 97, 97, 97, 98, 97, 98, 98, 98, 95, 97,
           96, 98, 97, 98, 97, 96, 97, 98, 97, 96, 95, 94, 94, 95, 95, 96, 97, 97, 97]
# the higher lines sit on 1.00 for the whole fight
h_u195 = [100] * 109
hd_u195 = [99] * 109
h_u225 = [100] * 109
hd_u225 = [99.5] * 109
h_u255 = [100] * 109
hd_u255 = [99.5] * 109
h_u285 = [100] * 109
hd_u285 = [99.8] * 109

# ================= truth: strikes landed in the current round, every 5 s
count_collazo = [0, 0, 0, 0, 0, 0, 0, 0, 1, 1, 2, 2, 2, 2, 2, 2, 2, 3, 3, 3, 3, 3, 3, 4, 4, 4, 4, 4, 5, 5, 5, 5, 5, 5, 5, 5,
                 6, 0, 0, 0, 1, 2, 2, 2, 3, 3, 4, 4, 4, 5, 5, 5, 5, 5, 5, 6, 7, 8, 8, 8, 9, 10, 10, 10, 11, 12, 12, 12, 12, 15, 16, 17,
                 18, 0, 1, 1, 2, 3, 4, 5, 5, 6, 6, 6, 6, 6, 6, 6, 7, 8, 8, 8, 9, 10, 10, 10, 12, 14, 15, 16, 16, 17, 20, 20, 21, 23, 23, 24,
                 25, 0, 0, 0, 0, 0, 1, 1, 2, 3, 4, 5, 6, 7, 8, 8, 9, 10, 10, 10, 10, 10, 10, 11, 12, 13, 15, 16, 17, 19, 20, 21, 22, 23, 23, 25,
                 26, 0, 0, 1, 2, 3, 4, 5, 6, 7, 7, 8, 8, 9, 10, 10, 11, 11, 12, 14, 15, 17, 18, 18, 19, 20, 22, 22, 24, 25, 27, 30, 30, 30, 33, 34,
                 36, 0, 0, 0, 1, 3, 3, 4, 5, 6, 9, 12, 12, 14, 15, 16, 17, 17, 17, 17, 20, 22, 22, 26, 27, 28, 29, 29, 30, 32, 37, 39, 41, 41, 41, 42, 45]
count_haro = [0, 0, 0, 0, 0, 0, 0, 0, 0, 0, 0, 0, 1, 2, 2, 2, 3, 3, 3, 3, 4, 4, 4, 4, 5, 5, 5, 5, 5, 5, 5, 5, 5, 5, 5, 5,
              6, 0, 0, 1, 1, 1, 1, 1, 1, 1, 1, 1, 1, 1, 1, 2, 2, 2, 2, 2, 2, 2, 3, 3, 3, 3, 3, 3, 3, 3, 3, 5, 6, 6, 6, 6,
              6, 0, 1, 1, 1, 2, 2, 2, 2, 2, 3, 3, 3, 3, 3, 3, 4, 5, 5, 5, 5, 5, 6, 7, 7, 7, 7, 7, 7, 8, 9, 10, 10, 10, 10, 10,
              10, 0, 0, 0, 0, 0, 0, 0, 0, 0, 0, 0, 0, 2, 3, 3, 4, 4, 5, 6, 6, 6, 6, 7, 8, 8, 9, 11, 12, 14, 15, 15, 15, 15, 15, 15,
              15, 0, 0, 0, 0, 0, 0, 0, 0, 0, 0, 0, 0, 0, 1, 1, 1, 1, 1, 1, 2, 3, 4, 4, 4, 5, 6, 6, 6, 7, 8, 8, 9, 9, 9, 9,
              9, 0, 0, 0, 1, 1, 2, 2, 2, 2, 2, 2, 2, 2, 3, 3, 3, 3, 3, 3, 3, 4, 6, 6, 6, 6, 6, 6, 6, 6, 6, 8, 9, 9, 9, 9, 10]

collazo = [(t10, c_u45, cd_u45), (t10, c_u75, cd_u75), (t5, c_u105, cd_u105),
           (t5, c_u135, cd_u135), (t5, c_u165, cd_u165), (t5, c_u195, cd_u195),
           (t5, c_u225, cd_u225), (t5, c_u255, cd_u255), (t5, c_u285, cd_u285)]
haro = [(t5, h_u45, hd_u45), (t5, h_u75, hd_u75), (t5, h_u105, hd_u105),
        (t5, h_u135, hd_u135), (t10, h_u165, hd_u165), (t10, h_u195, hd_u195),
        (t10, h_u225, hd_u225), (t10, h_u255, hd_u255), (t10, h_u285, hd_u285)]


def mark_rounds(ax):
    for i, r in enumerate(round_starts):
        ax.axvline(r, color='gray', linestyle=':', linewidth=0.8, alpha=0.8)
        ax.text(r + 2, 0.965, f'R{i + 1}', transform=ax.get_xaxis_transform(),
                ha='left', va='top', fontsize=7, color='gray', alpha=0.9)


def prob_panel(ax, series, title):
    for k, (lab, col, (tt, s, d)) in enumerate(zip(labels, colors, series)):
        if len(s) != len(tt) or len(d) != len(tt):
            raise ValueError(f'{title[:5]} {lab}: {len(s)}/{len(d)} vs {len(tt)}')
        s = np.array(s) / 100
        d = np.array(d) / 100
        ax.fill_between(tt, d, s, color=col, alpha=0.08, linewidth=0)
        ax.plot(tt, d, color=col, linestyle=':', linewidth=0.9, alpha=0.6)
        ax.plot(tt, s, color=col, linewidth=1.3, alpha=0.85, label=lab)
    mark_rounds(ax)
    ax.set_ylim(0, 1.15)
    ax.yaxis.set_major_locator(MultipleLocator(0.05))
    ax.yaxis.set_major_formatter(FormatStrFormatter('%.2f'))
    ax.grid(axis='y', alpha=0.3)
    ax.set_ylabel('Prob', fontsize=7)
    ax.set_title(title, fontsize=10)
    ax.tick_params(labelsize=6.5)
    ax.legend(loc='upper right', ncol=4, fontsize=6)


fig, axes = plt.subplots(3, 1, figsize=(14, 10), dpi=150, sharex=True,
                         gridspec_kw={'height_ratios': [3, 3, 2]})
fig.subplots_adjust(left=0.044, right=0.989, top=0.966, bottom=0.055, hspace=0.145)

prob_panel(axes[0], collazo, 'OSCAR COLLAZO \u2014 Total Strikes Landed R8 Under Full Fight (Event 16186)')
prob_panel(axes[1], haro, 'JESUS HARO \u2014 Total Strikes Landed R8 Under Full Fight (Event 16186)')

ax = axes[2]
ax.plot(t5, count_collazo, color='red', linewidth=1.8, alpha=0.75, label='Truth OSCAR COLLAZO: 45')
ax.plot(t5, count_haro, color='blue', linewidth=1.8, alpha=0.75, label='Truth JESUS HARO: 10')
mark_rounds(ax)
ax.yaxis.set_minor_locator(MultipleLocator(5))
ax.grid(axis='y', which='both', alpha=0.3)
ax.tick_params(axis='y', which='minor', length=0)
ax.tick_params(labelsize=6.5)
ax.set_ylabel('Count', fontsize=8)
ax.set_xlabel('Fight time (seconds)', fontsize=10)
ax.legend(loc='upper left', fontsize=7)

fig.savefig('out.png', dpi=150)
